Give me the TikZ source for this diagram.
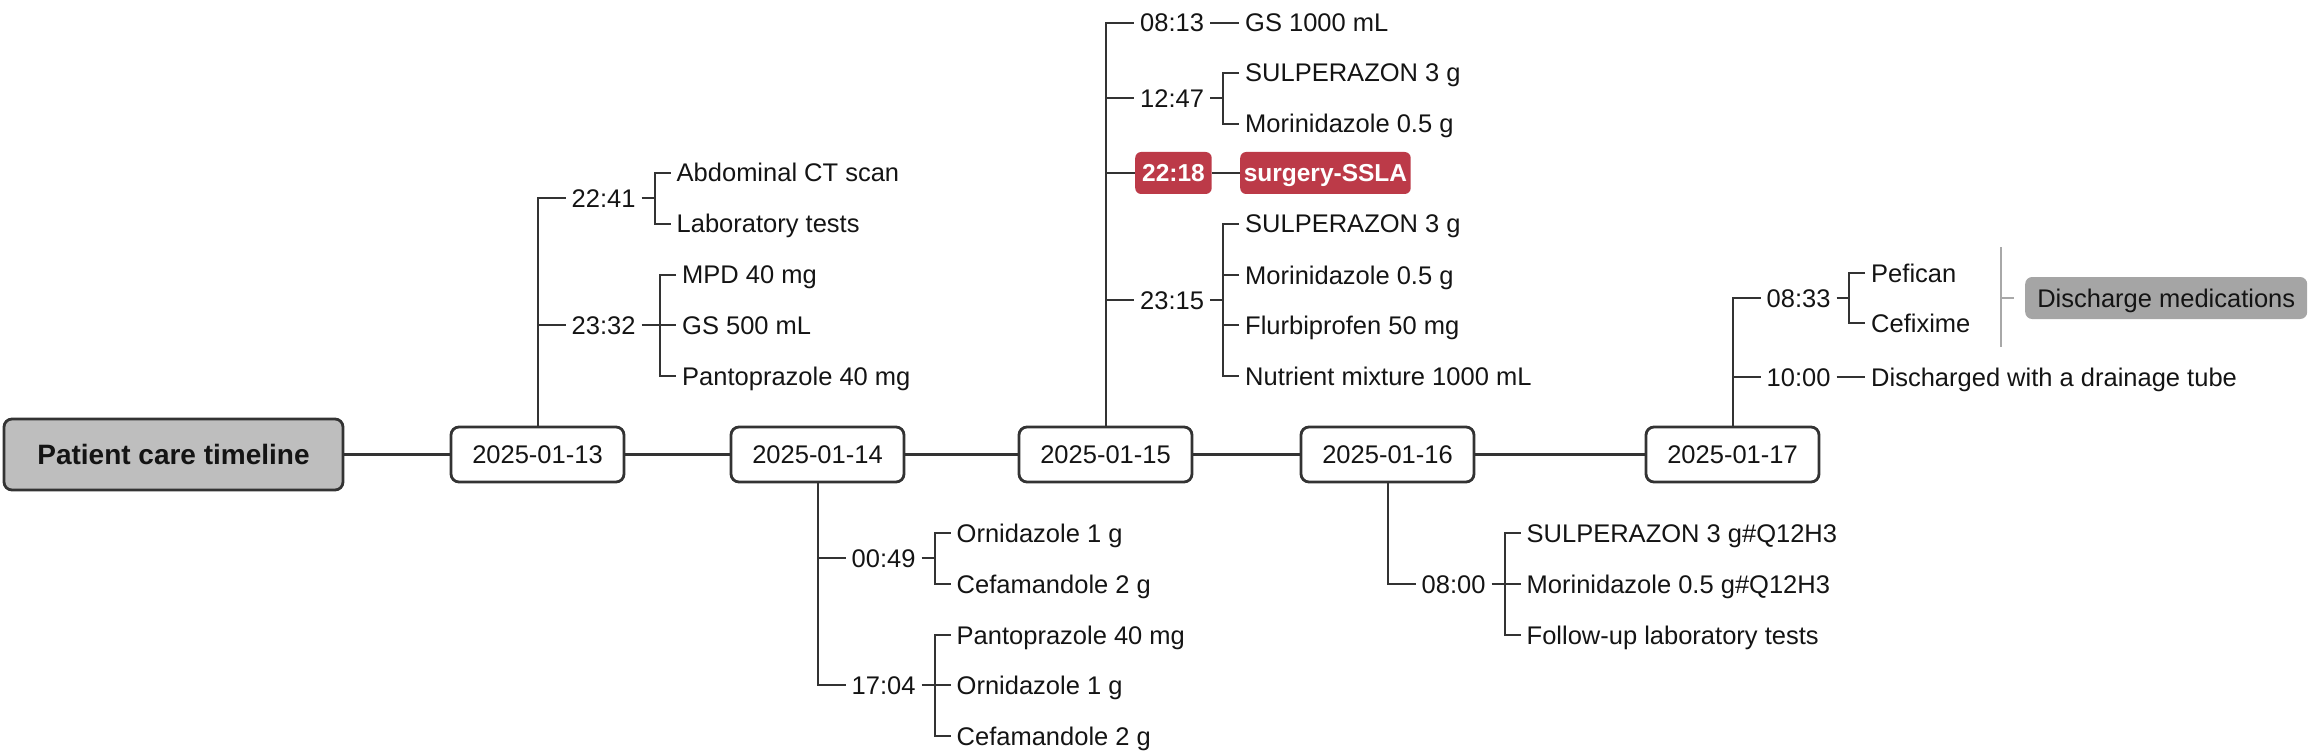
\documentclass[tikz,border=0pt]{standalone}
\usepackage{fontspec}
\setmainfont{Liberation Sans}
\usetikzlibrary{calc}
\definecolor{ln}{HTML}{333333}
\definecolor{txt}{HTML}{141414}
\definecolor{rootfill}{HTML}{BEBEBE}
\definecolor{redbox}{HTML}{BC3A48}
\definecolor{sumfill}{HTML}{A5A5A5}
\definecolor{sumline}{HTML}{A8A8A8}
\begin{document}
\begin{tikzpicture}[x=1pt,y=-1pt,
  font=\fontsize{25.5}{30}\selectfont, text=txt,
  root/.style={draw=ln, line width=2.8pt, fill=rootfill, rounded corners=8pt, minimum width=339pt, minimum height=71pt, font=\fontsize{28}{32}\selectfont\bfseries, text height=20pt, text depth=0pt, inner sep=0pt},
  datebox/.style={draw=ln, line width=2.8pt, fill=white, rounded corners=8pt, minimum width=173pt, minimum height=55pt, text height=18pt, text depth=0pt, inner sep=0pt},
  lbl/.style={anchor=west, inner xsep=6pt, inner ysep=0pt, text height=18pt, text depth=0pt},
  hot/.style={anchor=west, fill=redbox, text=white, rounded corners=6pt, minimum height=42pt, inner xsep=0pt, inner ysep=0pt, text height=17pt, text depth=0pt, font=\fontsize{24.5}{28}\selectfont\bfseries},
  sumbox/.style={anchor=west, fill=sumfill, rounded corners=7pt, minimum height=42pt, minimum width=282pt, inner sep=0pt, text height=18pt, text depth=0pt},
  trunk/.style={draw=ln, line width=2.6pt},
  br/.style={draw=ln, line width=2pt},
  sumln/.style={draw=sumline, line width=1.6pt},
]
\useasboundingbox (0,0) rectangle (2314,754);

% main timeline
\node[root] (root) at (173.5,454.5) {Patient care timeline};
\node[datebox] (d13) at (537.5,454.5) {2025-01-13};
\node[datebox] (d14) at (817.5,454.5) {2025-01-14};
\node[datebox] (d15) at (1105.5,454.5) {2025-01-15};
\node[datebox] (d16) at (1387.5,454.5) {2025-01-16};
\node[datebox] (d17) at (1732.5,454.5) {2025-01-17};
\draw[trunk] (root) -- (d13);
\draw[trunk] (d13) -- (d14);
\draw[trunk] (d14) -- (d15);
\draw[trunk] (d15) -- (d16);
\draw[trunk] (d16) -- (d17);

% 2025-01-13
\node[lbl] (t2241) at (565.5,198.5) {22:41};
\node[lbl] (a1) at (670.5,173) {Abdominal CT scan};
\node[lbl] (a2) at (670.5,224) {Laboratory tests};
\node[lbl] (t2332) at (565.5,325) {23:32};
\node[lbl] (a3) at (676,274.5) {MPD 40 mg};
\node[lbl] (a4) at (676,325) {GS 500 mL};
\node[lbl] (a5) at (676,376) {Pantoprazole 40 mg};
\coordinate (b1) at (654.5,198.5);
\coordinate (b2) at (660,325);
\draw[br] (d13.north) |- (t2241.west);
\draw[br] (t2332.west -| d13.north) -- (t2332.west);
\draw[br] (t2241.east) -- (b1);
\draw[br] (a1.west) -| (b1) |- (a2.west);
\draw[br] (t2332.east) -- (a4.west);
\draw[br] (a3.west) -| (b2) |- (a5.west);

% 2025-01-14
\node[lbl] (t0049) at (845.5,558) {00:49};
\node[lbl] (o1) at (950.5,533) {Ornidazole 1 g};
\node[lbl] (o2) at (950.5,584) {Cefamandole 2 g};
\node[lbl] (t1704) at (845.5,685) {17:04};
\node[lbl] (o3) at (950.5,635) {Pantoprazole 40 mg};
\node[lbl] (o4) at (950.5,685) {Ornidazole 1 g};
\node[lbl] (o5) at (950.5,736) {Cefamandole 2 g};
\coordinate (b3) at (934.5,558);
\coordinate (b4) at (934.5,685);
\draw[br] (d14.south) |- (t1704.west);
\draw[br] (t0049.west -| d14.south) -- (t0049.west);
\draw[br] (t0049.east) -- (b3);
\draw[br] (o1.west) -| (b3) |- (o2.west);
\draw[br] (t1704.east) -- (o4.west);
\draw[br] (o3.west) -| (b4) |- (o5.west);

% 2025-01-15
\node[lbl] (t0813) at (1134,23) {08:13};
\node[lbl] (g1) at (1239,23) {GS 1000 mL};
\node[lbl] (t1247) at (1134,98.5) {12:47};
\node[lbl] (g2) at (1239,73) {SULPERAZON 3 g};
\node[lbl] (g3) at (1239,124) {Morinidazole 0.5 g};
\node[hot, minimum width=76.5pt] (h1) at (1135,173) {22:18};
\node[hot, minimum width=170.5pt] (h2) at (1240,173) {surgery-SSLA};
\node[lbl] (t2315) at (1134,300) {23:15};
\node[lbl] (g4) at (1239,224) {SULPERAZON 3 g};
\node[lbl] (g5) at (1239,275) {Morinidazole 0.5 g};
\node[lbl] (g6) at (1239,325) {Flurbiprofen 50 mg};
\node[lbl] (g7) at (1239,376) {Nutrient mixture 1000 mL};
\coordinate (b5) at (1223,98.5);
\coordinate (b6) at (1223,300);
\draw[br] (d15.north) |- (t0813.west);
\draw[br] (t1247.west -| d15.north) -- (t1247.west);
\draw[br] (h1.west -| d15.north) -- (h1.west);
\draw[br] (t2315.west -| d15.north) -- (t2315.west);
\draw[br] (t0813.east) -- (g1.west);
\draw[br] (t1247.east) -- (b5);
\draw[br] (g2.west) -| (b5) |- (g3.west);
\draw[br] (h1) -- (h2);
\draw[br] (t2315.east) -- (b6);
\draw[br] (g4.west) -| (b6) |- (g7.west);
\draw[br] (g5.west) -- (g5.west -| b6);
\draw[br] (g6.west) -- (g6.west -| b6);

% 2025-01-16
\node[lbl] (t0800) at (1415.5,584) {08:00};
\node[lbl] (s1) at (1520.5,533) {SULPERAZON 3 g\#Q12H3};
\node[lbl] (s2) at (1520.5,584) {Morinidazole 0.5 g\#Q12H3};
\node[lbl] (s3) at (1520.5,635) {Follow-up laboratory tests};
\coordinate (b7) at (1504.5,584);
\draw[br] (d16.south) |- (t0800.west);
\draw[br] (t0800.east) -- (s2.west);
\draw[br] (s1.west) -| (b7) |- (s3.west);

% 2025-01-17
\node[lbl] (t0833) at (1760.5,298) {08:33};
\node[lbl] (p1) at (1865,273) {Pefican};
\node[lbl] (p2) at (1865,323) {Cefixime};
\node[lbl] (t1000) at (1760.5,377) {10:00};
\node[lbl] (p3) at (1865,377) {Discharged with a drainage tube};
\coordinate (b8) at (1849,298);
\draw[br] (d17.north) |- (t0833.west);
\draw[br] (t1000.west -| d17.north) -- (t1000.west);
\draw[br] (t0833.east) -- (b8);
\draw[br] (p1.west) -| (b8) |- (p2.west);
\draw[br] (t1000.east) -- (p3.west);

% summary
\coordinate (sA) at (2001,247);
\coordinate (sB) at (2001,347);
\coordinate (sM) at (2001,298);
\node[sumbox] (sm) at (2025,298) {Discharge medications};
\draw[sumln] (sA) -- (sB);
\draw[sumln] (sM) -- ([xshift=-11pt]sm.west);
\end{tikzpicture}
\end{document}
